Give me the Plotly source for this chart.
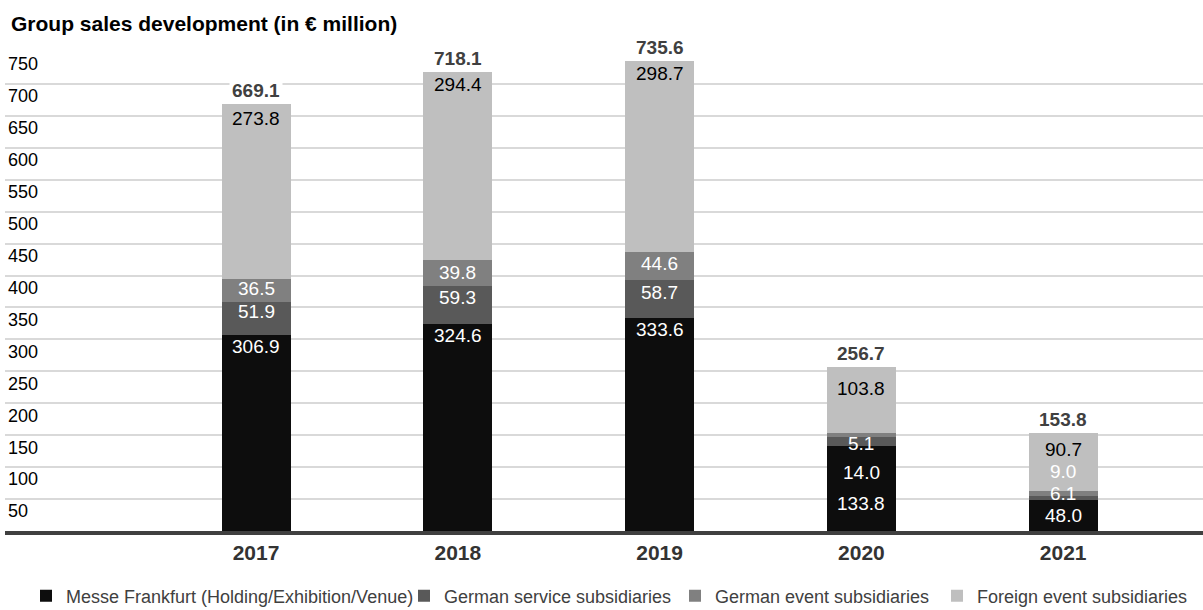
import plotly.graph_objects as go

years = ["2017", "2018", "2019", "2020", "2021"]
series_names = [
    "Messe Frankfurt (Holding/Exhibition/Venue)",
    "German service subsidiaries",
    "German event subsidiaries",
    "Foreign event subsidiaries",
]
messe = [306.9, 324.6, 333.6, 133.8, 48.0]
german_service = [51.9, 59.3, 58.7, 14.0, 6.1]
german_event = [36.5, 39.8, 44.6, 5.1, 9.0]
foreign_event = [273.8, 294.4, 298.7, 103.8, 90.7]
totals = [669.1, 718.1, 735.6, 256.7, 153.8]
y_ticks = [50, 100, 150, 200, 250, 300, 350, 400, 450, 500, 550, 600, 650, 700, 750]

series_values = [messe, german_service, german_event, foreign_event]
colors = ["#0d0d0d", "#595959", "#808080", "#bfbfbf"]
label_colors = ["#ffffff", "#ffffff", "#ffffff", "#000000"]
FONT = "Liberation Sans, Arial, sans-serif"

# pixel offsets (label centre below segment top); default 12
label_offsets = {
    (0, 3): 15, (0, 2): 10, (0, 1): 10,
    (3, 0): 58, (3, 1): 36, (3, 2): 10, (3, 3): 21,
    (4, 0): 15, (4, 1): -3, (4, 2): -19, (4, 3): 17,
}
label_color_override = {(4, 2): "#ffffff"}

fig = go.Figure()
legend_ids = ["legend", "legend2", "legend3", "legend4"]
for s, (name, vals) in enumerate(zip(series_names, series_values)):
    fig.add_trace(go.Bar(
        x=years, y=vals, name=name, marker=dict(color=colors[s], line=dict(width=0)),
        width=0.342, legend=legend_ids[s], hoverinfo="skip",
    ))

for i, yr in enumerate(years):
    cum = 0
    for s, vals in enumerate(series_values):
        cum += vals[i]
        off = label_offsets.get((i, s), 12)
        fig.add_annotation(
            x=i, y=cum, xref="x", yref="y", text=f"{vals[i]:.1f}", showarrow=False,
            yanchor="middle", yshift=-off,
            font=dict(family=FONT, size=19, color=label_color_override.get((i, s), label_colors[s])),
        )
    fig.add_annotation(
        x=i, y=totals[i], xref="x", yref="y", text=f"<b>{totals[i]:.1f}</b>", showarrow=False,
        yanchor="bottom", bgcolor="#ffffff", borderpad=2,
        font=dict(family=FONT, size=19, color="#404040"),
    )

legend_left_px = [26, 404, 675, 937]
legends = {}
for k, lid in enumerate(legend_ids):
    legends[lid] = dict(
        x=legend_left_px[k] / 1203, xref="container", y=1 - 596 / 610, yref="container",
        xanchor="left", yanchor="middle", orientation="h",
        font=dict(family=FONT, size=18, color="#404040"), bgcolor="rgba(0,0,0,0)",
        itemclick=False,
    )

fig.update_layout(
    width=1203, height=610,
    margin=dict(l=5, r=0, t=52, b=79, autoexpand=False),
    barmode="stack",
    plot_bgcolor="#ffffff", paper_bgcolor="#ffffff",
    title=dict(text="<b>Group sales development (in € million)</b>", x=11/1203, xref="container",
               y=1 - 24/610, yref="container", yanchor="middle", xanchor="left",
               font=dict(family=FONT, size=21, color="#000000")),
    showlegend=True,
    **legends,
)
fig.update_xaxes(
    type="category", range=[-1.244, 4.693], showgrid=False,
    showline=True, linecolor="#404040", linewidth=4,
    tickfont=dict(family=FONT, size=21, color="#333333"),
    tickprefix="<b>", ticksuffix="</b>", ticks="",
)
fig.update_yaxes(
    range=[0, 750], tickvals=y_ticks, ticktext=[str(v) for v in y_ticks],
    showgrid=True, gridcolor="#d9d9d9", gridwidth=2, zeroline=False,
    ticklabelposition="inside", ticklabelshift=12,
    tickfont=dict(family=FONT, size=18, color="#000000"), ticks="",
)
fig.write_html("out.html")
